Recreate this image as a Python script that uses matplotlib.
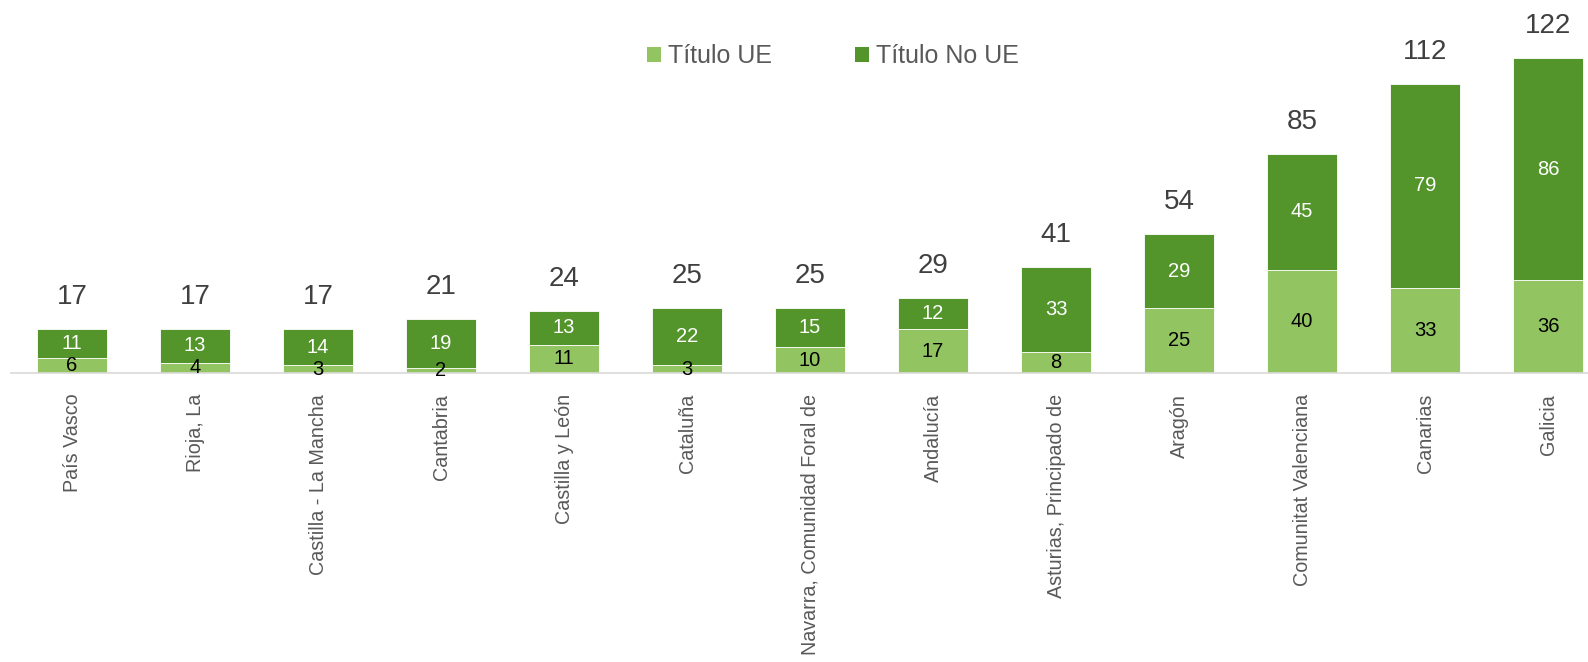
import matplotlib
matplotlib.use("Agg")
import matplotlib.pyplot as plt
from matplotlib.patches import Patch

plt.rcParams['font.family'] = ['Liberation Sans', 'DejaVu Sans']

categories = ["País Vasco", "Rioja, La", "Castilla - La Mancha", "Cantabria",
              "Castilla y León", "Cataluña", "Navarra, Comunidad Foral de",
              "Andalucía", "Asturias, Principado de", "Aragón",
              "Comunitat Valenciana", "Canarias", "Galicia"]
titulo_ue = [6, 4, 3, 2, 11, 3, 10, 17, 8, 25, 40, 33, 36]
titulo_no_ue = [11, 13, 14, 19, 13, 22, 15, 12, 33, 29, 45, 79, 86]
totals = [17, 17, 17, 21, 24, 25, 25, 29, 41, 54, 85, 112, 122]

c_light = "#93C462"
c_dark = "#53952A"

W, H = 1588, 662
fig = plt.figure(figsize=(W / 100, H / 100), dpi=100)
ymax = 140
ppu = 2.582
left_px, right_px = 10.5, 10.5 + 13 * 123
bottom_px = 373
ax = fig.add_axes([left_px / W, (H - bottom_px) / H,
                   (right_px - left_px) / W, ymax * ppu / H])

x = list(range(len(categories)))
bw = 70 / 123
ax.bar(x, titulo_ue, width=bw, color=c_light, edgecolor="white", linewidth=0.6, zorder=2)
ax.bar(x, titulo_no_ue, width=bw, bottom=titulo_ue, color=c_dark, edgecolor="white", linewidth=0.6, zorder=2)

for i in x:
    ue, nue, tot = titulo_ue[i], titulo_no_ue[i], totals[i]
    ax.text(i, ue / 2, str(ue), ha="center", va="center", fontsize=14.5, color="black", zorder=3)
    ax.text(i, ue + nue / 2, str(nue), ha="center", va="center", fontsize=14.5, color="white", zorder=3)
    ax.text(i, tot + 32 / ppu, str(tot), ha="center", va="center", fontsize=20, color="#404040", zorder=3)

ax.set_xlim(-0.5, len(categories) - 0.5)
ax.set_ylim(0, ymax)
ax.set_xticks(x)
ax.set_xticklabels(categories, rotation=90, fontsize=14.2, color="#595959")
ax.tick_params(axis="x", length=0, pad=15)
ax.set_yticks([])
for s in ["top", "right", "left"]:
    ax.spines[s].set_visible(False)
ax.spines["bottom"].set_color("#D9D9D9")
ax.spines["bottom"].set_linewidth(1.2)

handles = [Patch(facecolor=c_light, edgecolor="none", label="Título UE"),
           Patch(facecolor=c_dark, edgecolor="none", label="Título No UE")]
fig.legend(handles=handles, loc="center", bbox_to_anchor=(833 / W, 1 - 56 / H),
           ncol=2, frameon=False, fontsize=18, labelcolor="#595959",
           handlelength=0.55, handleheight=0.55, handletextpad=0.3, columnspacing=3.3)

fig.savefig("out.png", dpi=100)
